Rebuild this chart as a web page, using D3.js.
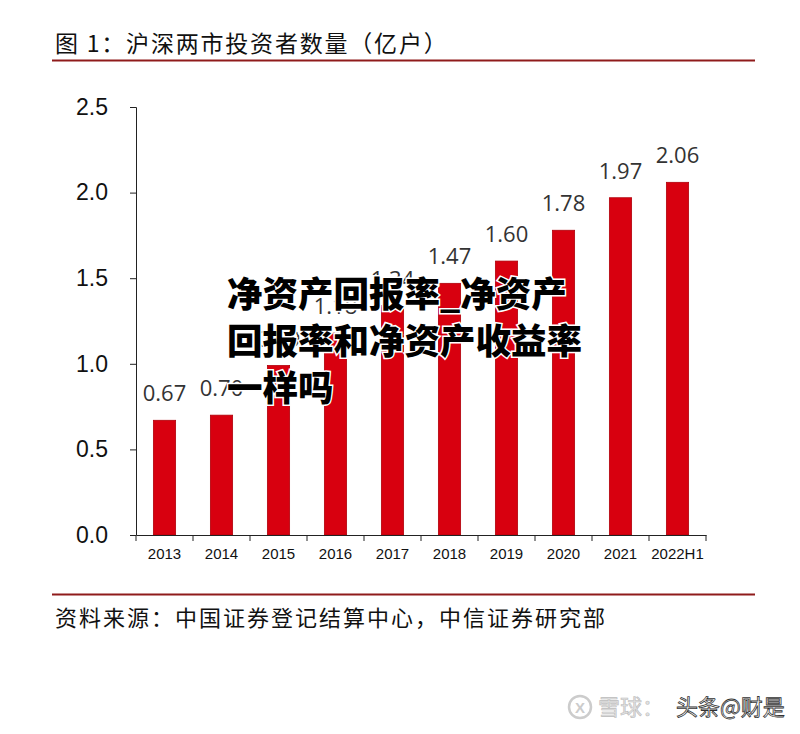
<!DOCTYPE html>
<html><head><meta charset="utf-8">
<script src="https://cdn.jsdelivr.net/npm/d3@7/dist/d3.min.js"></script>
<style>body{margin:0;background:#fff;} svg{display:block;}</style>
</head><body>
<script>
const categories = ["2013","2014","2015","2016","2017","2018","2019","2020","2021","2022H1"];
const values = [0.67,0.70,0.99,1.18,1.34,1.47,1.60,1.78,1.97,2.06];
const yTicks = [0,0.5,1.0,1.5,2.0,2.5];
const title = "图 1：沪深两市投资者数量（亿户）";
const source = "资料来源：中国证券登记结算中心，中信证券研究部";
const overlay = ["净资产回报率_净资产","回报率和净资产收益率","一样吗"];

const W=800,H=734;
const svg=d3.select("body").append("svg").attr("width",W).attr("height",H);
svg.append("rect").attr("width",W).attr("height",H).attr("fill","#fff");
const cjk='"Noto Sans CJK SC", sans-serif';
const lat='"Liberation Sans", Arial, sans-serif';

svg.append("text").attr("x",55).attr("y",52).attr("font-family",cjk).attr("font-size",23).attr("letter-spacing",1.8).attr("fill","#111").text(title);
svg.append("line").attr("x1",52).attr("x2",755).attr("y1",60.5).attr("y2",60.5).attr("stroke","#8f1b1b").attr("stroke-width",2);

const x=d3.scaleBand().domain(categories).range([136,706]).paddingInner(0.61).paddingOuter(0.305);
const y=d3.scaleLinear().domain([0,2.5]).range([535,107]);

const g=svg.append("g");
g.selectAll("rect.bar").data(values).join("rect").attr("class","bar")
 .attr("x",(d,i)=>x(categories[i])).attr("width",x.bandwidth())
 .attr("y",d=>y(d)).attr("height",d=>y(0)-y(d))
 .attr("fill","#d8000f").attr("stroke","#b0000a").attr("stroke-width",0.8);

g.selectAll("text.val").data(values).join("text").attr("class","val")
 .attr("x",(d,i)=>x(categories[i])+x.bandwidth()/2).attr("y",d=>y(d)-19)
 .attr("text-anchor","middle").attr("font-family",'"Open Sans", sans-serif').attr("font-size",22).attr("fill","#333")
 .text(d=>d.toFixed(2));

const ya=svg.append("g").attr("transform","translate(136,0)")
 .call(d3.axisLeft(y).tickValues(yTicks).tickSize(6).tickPadding(22).tickFormat(d3.format(".1f")));
ya.select(".domain").attr("stroke","#222").attr("d","M-6,107.5H0.5V535.5");
ya.selectAll(".tick line").attr("stroke","#222");
ya.selectAll("text").attr("font-family",lat).attr("font-size",23).attr("fill","#111");

const xa=svg.append("g").attr("transform","translate(0,535)")
 .call(d3.axisBottom(x).tickSize(0).tickPadding(13));
xa.select(".domain").attr("stroke","#222");
xa.selectAll("text").attr("font-family",lat).attr("font-size",15).attr("fill","#111");
const sepX = categories.map((c,i)=>x(c)-x.step()*0.305);
sepX.push(706);
xa.selectAll("line.sep").data(sepX).join("line").attr("class","sep")
 .attr("x1",d=>d).attr("x2",d=>d).attr("y1",0).attr("y2",6).attr("stroke","#222");

svg.append("line").attr("x1",52).attr("x2",755).attr("y1",594.5).attr("y2",594.5).attr("stroke","#8f1b1b").attr("stroke-width",2);
svg.append("text").attr("x",55).attr("y",626).attr("font-family",cjk).attr("font-size",22).attr("letter-spacing",2).attr("fill","#111").text(source);

// overlay watermark text
const ov=svg.append("g").attr("font-family",cjk).attr("font-weight",900).attr("font-size",35.5);
overlay.forEach((t,i)=>{
 ov.append("text").attr("x",227).attr("y",307+i*47).attr("fill","#000")
  .attr("stroke","#fff").attr("stroke-width",3).attr("paint-order","stroke").text(t);
});

// bottom watermark
const wm=svg.append("g");
wm.append("circle").attr("cx",580).attr("cy",707).attr("r",11).attr("fill","none").attr("stroke","#ccc").attr("stroke-width",2.5);
wm.append("text").attr("x",580).attr("y",713).attr("text-anchor","middle").attr("font-family",lat).attr("font-size",15).attr("font-weight",700).attr("fill","#ccc").text("X");
wm.append("text").attr("x",598).attr("y",715).attr("font-family",cjk).attr("font-size",22).attr("fill","#e2e2e2").attr("stroke","#bbb").attr("stroke-width",0.6).text("雪球：");
wm.append("text").attr("x",676).attr("y",715).attr("font-family",cjk).attr("font-size",22).attr("fill","#fff").attr("stroke","#333").attr("stroke-width",0.8).text("头条@财是");
</script>
</body></html>
